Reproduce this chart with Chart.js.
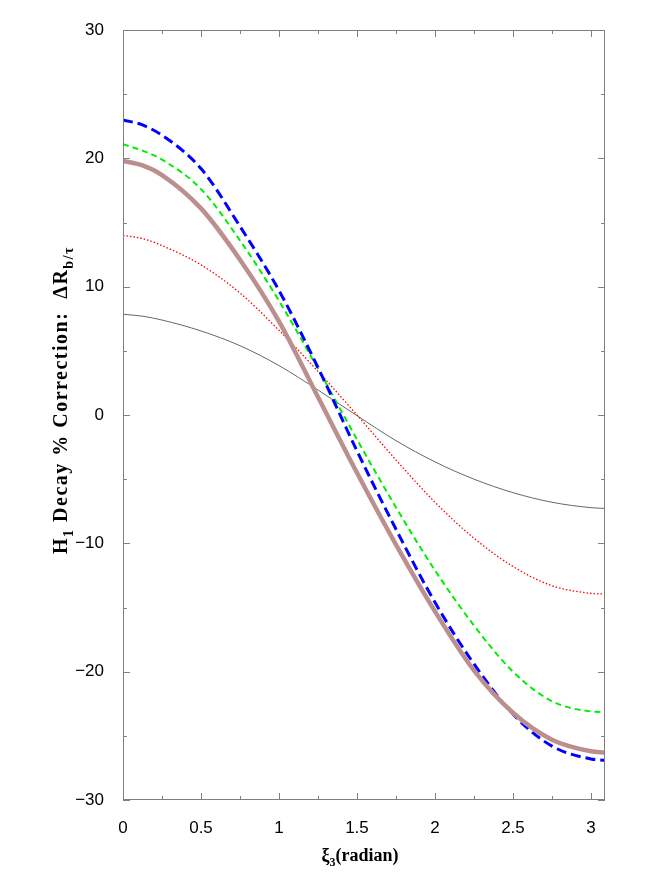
<!DOCTYPE html>
<html>
<head>
<meta charset="utf-8">
<script src="https://cdn.jsdelivr.net/npm/chart.js@4.4.1/dist/chart.umd.min.js"></script>
<style>
    html, body { margin: 0; padding: 0; background: #ffffff; }
    #wrap { width: 654px; height: 872px; position: relative; }
</style>
</head>
<body>
<div id="wrap"><canvas id="decayChart"></canvas></div>
<script>
// xi_3 sample points (radian)
const xiValues = [0, 0.125, 0.25, 0.5, 0.75, 1.0, 1.25, 1.5, 1.75, 2.0, 2.25, 2.5, 2.75, 3.0, 3.09];

// % correction curves
const brownCurve = [19.8, 19.45, 18.7, 16.1, 12.1, 7.3, 1.4, -4.5, -10.1, -15.3, -19.9, -23.2, -25.3, -26.2, -26.3];
const blueCurve  = [23.0, 22.6, 21.8, 19.2, 14.7, 9.7, 3.7, -2.8, -8.9, -14.6, -19.4, -23.3, -25.8, -26.8, -26.9];
const greenCurve = [21.1, 20.6, 19.9, 17.6, 13.6, 8.9, 3.6, -1.9, -7.2, -12.1, -16.4, -20.0, -22.3, -23.1, -23.15];
const redCurve   = [14.0, 13.75, 13.2, 11.7, 9.5, 6.6, 3.4, 0.0, -3.5, -6.8, -9.6, -11.8, -13.3, -13.9, -13.95];
const blackCurve = [7.85, 7.7, 7.4, 6.55, 5.4, 3.85, 1.95, -0.05, -2.0, -3.65, -5.0, -6.05, -6.8, -7.22, -7.28];

// axis ticks
const xTickValues = [0, 0.5, 1, 1.5, 2, 2.5, 3];
const xMinorTicks = [0.25, 0.75, 1.25, 1.75, 2.25, 2.75];
const yTickValues = [-30, -20, -10, 0, 10, 20, 30];
const yMinorTicks = [-25, -15, -5, 5, 15, 25];

const frameColor = '#808080';

function toPoints(values) {
    return xiValues.map((x, i) => ({ x: x, y: values[i] }));
}

// draws text pieces with subscripts, centered on (0,0) of the current transform
function drawRichText(ctx, parts, size, spacing) {
    const mainFont = `bold ${size}px "Liberation Serif", "Times New Roman", serif`;
    const subFont = `bold ${Math.round(size * 0.68)}px "Liberation Serif", "Times New Roman", serif`;
    ctx.letterSpacing = spacing + 'px';
    let total = 0;
    parts.forEach(p => {
        ctx.font = p.sub ? subFont : mainFont;
        total += ctx.measureText(p.t).width;
    });
    let x = -total / 2;
    ctx.textAlign = 'left';
    ctx.textBaseline = 'alphabetic';
    parts.forEach(p => {
        ctx.font = p.sub ? subFont : mainFont;
        ctx.fillText(p.t, x, p.sub ? size * 0.28 : 0);
        x += ctx.measureText(p.t).width;
    });
    ctx.letterSpacing = '0px';
}

// frame, inward tick marks and axis titles
const framePlugin = {
    id: 'framePlugin',
    afterDraw(chart) {
        const ctx = chart.ctx;
        const area = chart.chartArea;
        const xs = chart.scales.x;
        const ys = chart.scales.y;
        ctx.save();
        ctx.strokeStyle = frameColor;
        ctx.lineWidth = 1;
        ctx.strokeRect(area.left + 0.5, area.top + 0.5, area.right - area.left - 1, area.bottom - area.top - 1);

        ctx.beginPath();
        const xTick = (v, len) => {
            const px = Math.round(xs.getPixelForValue(v)) + 0.5;
            ctx.moveTo(px, area.bottom); ctx.lineTo(px, area.bottom - len);
            ctx.moveTo(px, area.top); ctx.lineTo(px, area.top + len);
        };
        const yTick = (v, len) => {
            const py = Math.round(ys.getPixelForValue(v)) + 0.5;
            ctx.moveTo(area.left, py); ctx.lineTo(area.left + len, py);
            ctx.moveTo(area.right, py); ctx.lineTo(area.right - len, py);
        };
        xTickValues.forEach(v => xTick(v, 7));
        xMinorTicks.forEach(v => xTick(v, 4));
        yTickValues.forEach(v => yTick(v, 7));
        yMinorTicks.forEach(v => yTick(v, 4));
        ctx.stroke();

        ctx.fillStyle = '#000000';
        // x title
        ctx.save();
        ctx.translate((area.left + area.right) / 2 - 4, 861);
        drawRichText(ctx, [
            { t: 'ξ', sub: false },
            { t: '3', sub: true },
            { t: '(radian)', sub: false }
        ], 18, 0);
        ctx.restore();

        // y title
        ctx.save();
        ctx.translate(67, 400);
        ctx.rotate(-Math.PI / 2);
        drawRichText(ctx, [
            { t: 'H', sub: false },
            { t: '1', sub: true },
            { t: ' Decay % Correction:  ΔR', sub: false },
            { t: 'b/τ', sub: true }
        ], 20, 1.5);
        ctx.restore();
        ctx.restore();
    }
};

const tickFont = { family: '"Liberation Sans", Arial, sans-serif', size: 17 };

function curveStyle(color, width, dash) {
    return {
        borderColor: color,
        borderWidth: width,
        borderDash: dash,
        pointRadius: 0,
        cubicInterpolationMode: 'monotone'
    };
}

new Chart(document.getElementById('decayChart'), {
    type: 'line',
    data: {
        datasets: [
            { label: 'brown', data: toPoints(brownCurve), ...curveStyle('#bc8f8f', 4.5, []) },
            { label: 'blue', data: toPoints(blueCurve), ...curveStyle('#0000ff', 3, [10, 5]) },
            { label: 'green', data: toPoints(greenCurve), ...curveStyle('#00ee00', 2, [6, 4]) },
            { label: 'red', data: toPoints(redCurve), ...curveStyle('#ff0000', 1.3, [1.5, 2]) },
            { label: 'black', data: toPoints(blackCurve), ...curveStyle('#666666', 1, []) }
        ]
    },
    options: {
        responsive: true,
        maintainAspectRatio: false,
        animation: false,
        layout: {
            padding: { top: 30, right: 49, left: 0, bottom: 0 }
        },
        plugins: {
            legend: { display: false },
            tooltip: { enabled: false }
        },
        scales: {
            x: {
                type: 'linear',
                min: 0,
                max: 3.09,
                grid: { display: false },
                border: { display: false },
                afterBuildTicks: (scale) => {
                    scale.ticks = xTickValues.map(v => ({ value: v }));
                },
                afterFit: (scale) => { scale.height = 72; },
                ticks: {
                    color: '#000000',
                    font: tickFont,
                    padding: 10,
                    maxRotation: 0,
                    callback: (v) => String(v)
                }
            },
            y: {
                type: 'linear',
                min: -30,
                max: 30,
                grid: { display: false },
                border: { display: false },
                afterBuildTicks: (scale) => {
                    scale.ticks = yTickValues.map(v => ({ value: v }));
                },
                afterFit: (scale) => { scale.width = 123; },
                ticks: {
                    color: '#000000',
                    font: tickFont,
                    padding: 11,
                    callback: (v) => v < 0 ? '\u2212' + Math.abs(v) : String(v)
                }
            }
        }
    },
    plugins: [framePlugin]
});
</script>
</body>
</html>
